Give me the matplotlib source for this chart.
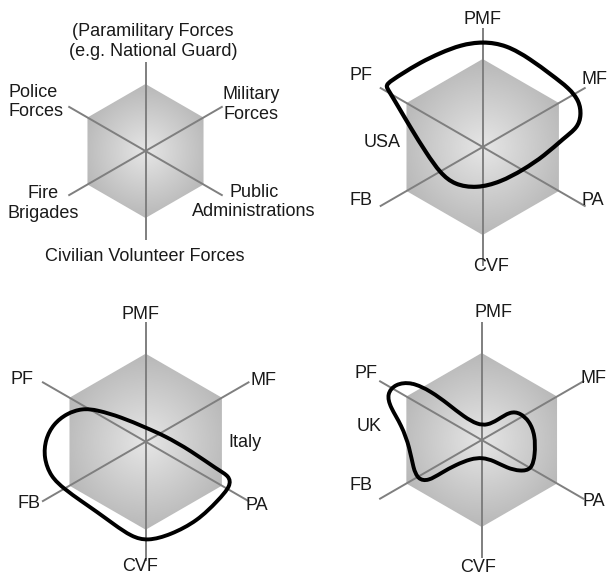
import numpy as np
import matplotlib.pyplot as plt
from matplotlib.path import Path
from matplotlib.patches import PathPatch, Polygon

plt.rcParams['font.family'] = ['Liberation Sans', 'DejaVu Sans']

W, H = 608, 576

# axes of the radar, clockwise from the top
axis_angles = [90, 30, -30, -90, -150, 150]
short_labels = ['PMF', 'MF', 'PA', 'CVF', 'FB', 'PF']
long_labels = ['(Paramilitary Forces\n(e.g. National Guard)', 'Military\nForces',
               'Public\nAdministrations', 'Civilian Volunteer Forces',
               'Fire\nBrigades', 'Police\nForces']

# outlines, in units of the hexagon radius
usa_x = [0.0, 0.27, 0.54, 0.78, 0.98, 1.10, 1.12, 1.08, 0.92, 0.70, 0.46, 0.20, -0.07,
         -0.32, -0.48, -0.64, -0.82, -0.96, -1.08, -1.11, -0.92, -0.71, -0.48, -0.25]
usa_y = [1.20, 1.16, 1.00, 0.82, 0.67, 0.52, 0.36, 0.22, 0.10, -0.10, -0.26, -0.40, -0.47,
         -0.43, -0.30, -0.07, 0.22, 0.46, 0.66, 0.71, 0.83, 0.96, 1.07, 1.16]

italy_x = [-0.55, -0.72, -0.90, -1.05, -1.14, -1.16, -1.08, -0.92, -0.74, -0.55, -0.36, -0.16,
           0.02, 0.28, 0.59, 0.82, 0.97, 0.95, 0.82, 0.51, 0.21, 0.0, -0.28]
italy_y = [0.36, 0.38, 0.32, 0.20, 0.03, -0.18, -0.40, -0.54, -0.67, -0.80, -0.94, -1.08,
           -1.13, -1.06, -0.90, -0.67, -0.50, -0.39, -0.32, -0.10, 0.07, 0.16, 0.28]

uk_x = [-0.807, -0.580, -0.390, -0.201, -0.049, 0.064, 0.178, 0.330, 0.443, 0.549, 0.614, 0.614,
        0.576, 0.443, 0.292, 0.140, 0.008, -0.125, -0.295, -0.466, -0.617, -0.731, -0.788, -0.826,
        -0.920, -1.053, -1.091, -0.996]
uk_y = [0.670, 0.557, 0.417, 0.265, 0.178, 0.170, 0.227, 0.330, 0.311, 0.216, 0.057, -0.170,
        -0.341, -0.360, -0.322, -0.239, -0.201, -0.216, -0.284, -0.379, -0.473, -0.455, -0.322, -0.095,
        0.170, 0.379, 0.530, 0.644]


def smooth_closed(xs, ys):
    # closed uniform cubic B-spline on the points, written as Bezier pieces
    p = np.column_stack([xs, ys])
    n = len(p)
    start = (p[-1] + 4 * p[0] + p[1]) / 6
    verts = [start]
    codes = [Path.MOVETO]
    for i in range(n):
        a, b, c = p[i], p[(i + 1) % n], p[(i + 2) % n]
        verts += [(2 * a + b) / 3, (a + 2 * b) / 3, (a + 4 * b + c) / 6]
        codes += [Path.CURVE4] * 3
    return Path(verts, codes)


def panel(cx, cy, s, axis_len, labels, label_pos, fontsize=13):
    ax = fig.add_axes([0, 0, 1, 1])
    ax.patch.set_alpha(0)
    ang = np.radians(axis_angles)
    hexagon = Polygon(np.column_stack([np.cos(ang), np.sin(ang)]), closed=True,
                      fc='none', ec='none')
    ax.add_patch(hexagon)
    g = np.linspace(-1, 1, 300)
    gx, gy = np.meshgrid(g, g)
    shade = 0.90 - 0.18 * np.hypot(gx, gy)
    im = ax.imshow(shade, cmap='gray', vmin=0, vmax=1, extent=(-1, 1, -1, 1),
                   origin='lower', zorder=1, interpolation='bilinear')
    im.set_clip_path(hexagon)
    for a in ang:
        ax.plot([0, axis_len * np.cos(a)], [0, axis_len * np.sin(a)],
                color='#7f7f7f', lw=1.4, zorder=2, solid_capstyle='butt')
    for lab, (u, v, ha) in zip(labels, label_pos):
        ax.text(u, v, lab, ha=ha, va='center', fontsize=fontsize, color='#1a1a1a',
                linespacing=1.2, zorder=4)
    ax.set_aspect('auto')
    ax.set_xlim(-cx / s, (W - cx) / s)
    ax.set_ylim(-(H - cy) / s, cy / s)
    ax.axis('off')
    return ax


fig = plt.figure(figsize=(W / 100, H / 100), dpi=100)

# top-left: key
panel(145.5, 151, 67, 1.33, long_labels,
      [(0.11, 1.63, 'center'), (1.57, 0.69, 'center'), (1.62, -0.76, 'center'),
       (-0.01, -1.58, 'center'), (-1.53, -0.78, 'center'), (-2.05, 0.73, 'left')])

# top-right: USA
ax = panel(482.7, 147, 88, 1.35, short_labels + ['USA'],
           [(0, 1.45, 'center'), (1.12, 0.77, 'left'), (1.12, -0.61, 'left'),
            (0.1, -1.36, 'center'), (-1.25, -0.61, 'right'), (-1.25, 0.81, 'right'),
            (-1.14, 0.05, 'center')])
ax.add_patch(PathPatch(smooth_closed(usa_x, usa_y), fc='none', ec='black', lw=3.0,
                       joinstyle='round', zorder=3))

# bottom-left: Italy
ax = panel(145.7, 441.7, 88, 1.36, short_labels + ['Italy'],
           [(-0.06, 1.45, 'center'), (1.19, 0.70, 'left'), (1.13, -0.72, 'left'),
            (-0.06, -1.42, 'center'), (-1.20, -0.70, 'right'), (-1.28, 0.71, 'right'),
            (1.13, -0.01, 'center')])
ax.add_patch(PathPatch(smooth_closed(italy_x, italy_y), fc='none', ec='black', lw=2.8,
                       joinstyle='round', zorder=3))

# bottom-right: UK
ax = panel(481.7, 440, 87, 1.36, short_labels + ['UK'],
           [(0.14, 1.46, 'center'), (1.14, 0.71, 'left'), (1.16, -0.71, 'left'),
            (-0.04, -1.46, 'center'), (-1.25, -0.52, 'right'), (-1.20, 0.77, 'right'),
            (-1.29, 0.15, 'center')])
ax.add_patch(PathPatch(smooth_closed(uk_x, uk_y), fc='none', ec='black', lw=2.8,
                       joinstyle='round', zorder=3))

fig.savefig('out.png', dpi=100)
